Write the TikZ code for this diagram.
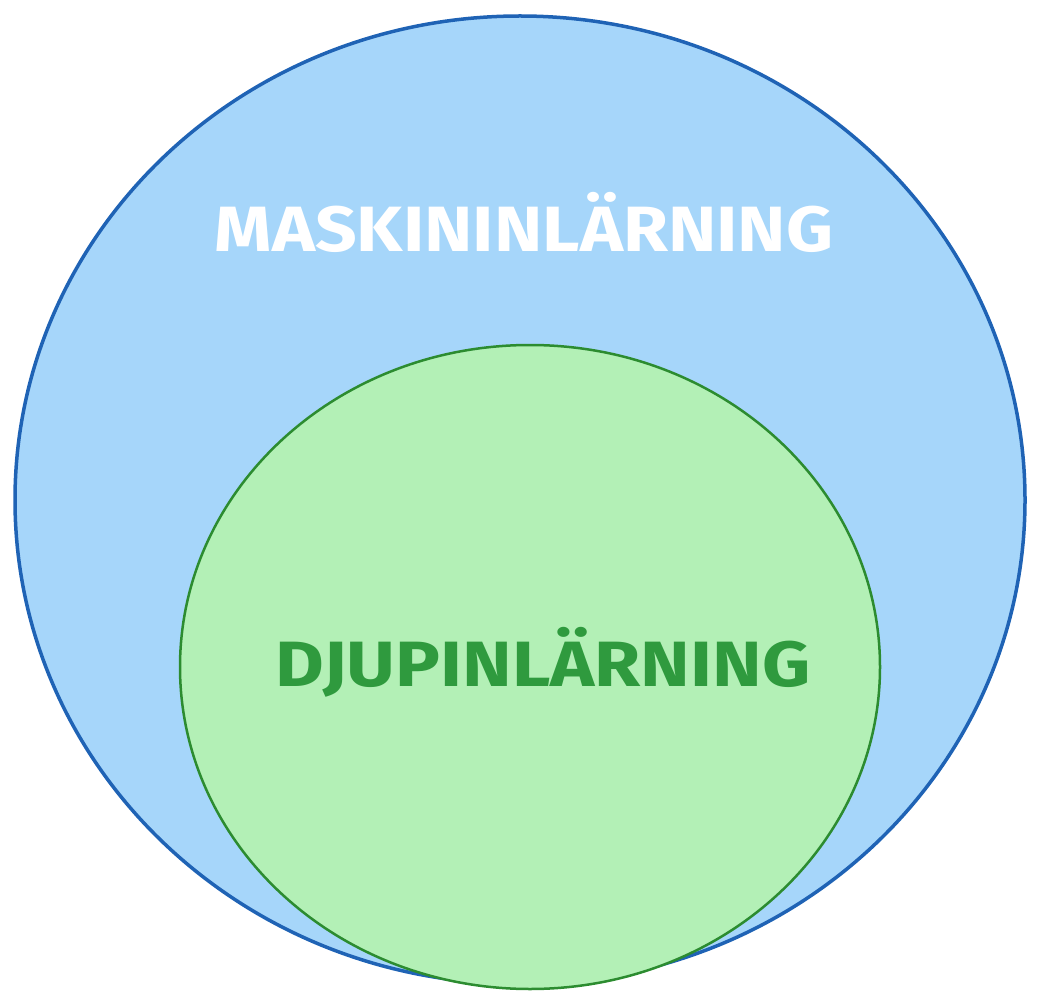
\documentclass[tikz,border=0pt]{standalone}
\usepackage{fontspec}
\setmainfont{Fira Sans}
\usepackage{xcolor}
\usetikzlibrary{shapes.geometric}
\definecolor{mlfill}{HTML}{A6D6FA}
\definecolor{mldraw}{HTML}{1F63B5}
\definecolor{dlfill}{HTML}{B3F0B6}
\definecolor{dldraw}{HTML}{2C8C30}
\definecolor{dltext}{HTML}{2F9A3E}

\begin{document}
\begin{tikzpicture}[x=1pt,y=-1pt]
  \tikzstyle{set}=[ellipse,inner sep=0pt]
  \tikzstyle{lbl}=[font=\fontsize{64}{70}\selectfont\bfseries,inner sep=0pt]
  \useasboundingbox (0,0) rectangle (1041,1008);

  % Outer set
  \node[set,draw=mldraw,fill=mlfill,line width=3.5pt,minimum width=1010pt,minimum height=968pt] (ml) at (520,500) {};
  \node[lbl,text=white] (mltext) at (524,222) {\scalebox{1.14}[1]{MASKININLÄRNING}};

  % Inner set
  \node[set,draw=dldraw,fill=dlfill,line width=2.5pt,minimum width=700pt,minimum height=644pt] (dl) at (530,667) {};
  \node[lbl,text=dltext] (dltext) at (543,662) {\scalebox{1.17}[1]{DJUPINLÄRNING}};
\end{tikzpicture}
\end{document}
